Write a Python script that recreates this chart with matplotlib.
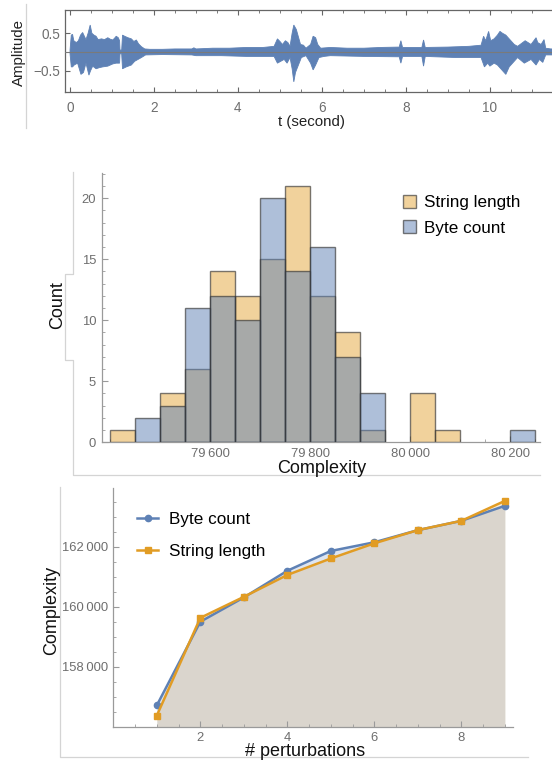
import matplotlib

matplotlib.use("Agg")
import matplotlib.pyplot as plt
import numpy as np
from matplotlib.colors import to_rgba
from matplotlib.lines import Line2D
from matplotlib.patches import Patch
from matplotlib.ticker import FuncFormatter, MultipleLocator

plt.rcParams["font.family"] = ["Liberation Sans", "DejaVu Sans"]

W, H = 552, 765
BLUE = "#5E81B5"
ORANGE = "#E19C24"
TICK = "#6e6e6e"
AXIS = "#9a9a9a"
FRAME = "#d4d4d4"

# --- waveform envelope (seconds, amplitude)
wave_t_hi = [0.00, 0.03, 0.06, 0.09, 0.15, 0.20, 0.25, 0.30, 0.35, 0.38, 0.43, 0.48, 0.52,
             0.57, 0.62, 0.67, 0.75, 0.82, 0.90, 0.96, 1.02, 1.07, 1.10, 1.15, 1.18, 1.19,
             1.23, 1.25, 1.30, 1.38, 1.46, 1.52, 1.58, 1.63, 1.70, 1.78, 1.90, 2.20, 2.50,
             2.90, 2.95, 3.00, 3.40, 3.80, 4.20, 4.60, 4.86, 4.94, 5.00, 5.06, 5.13, 5.19,
             5.24, 5.29, 5.33, 5.39, 5.44, 5.49, 5.56, 5.62, 5.73, 5.79, 5.85, 5.90, 5.97,
             6.20, 6.60, 7.00, 7.40, 7.84, 7.88, 7.92, 8.10, 8.38, 8.42, 8.46, 9.00, 9.50,
             9.79, 9.85, 9.90, 9.97, 10.02, 10.10, 10.18, 10.24, 10.30, 10.38, 10.46, 10.58,
             10.66, 10.84, 10.91, 10.98, 11.10, 11.14, 11.22, 11.29, 11.33, 11.45, 11.70]
wave_hi = [0.05, 0.45, 0.47, 0.30, 0.25, 0.30, 0.45, 0.52, 0.40, 0.33, 0.50, 0.72, 0.50,
           0.45, 0.42, 0.33, 0.35, 0.33, 0.38, 0.34, 0.32, 0.38, 0.42, 0.38, 0.30, 0.05,
           0.05, 0.45, 0.42, 0.38, 0.35, 0.28, 0.32, 0.22, 0.14, 0.08, 0.07, 0.07, 0.08,
           0.08, 0.11, 0.08, 0.10, 0.10, 0.12, 0.12, 0.15, 0.35, 0.28, 0.20, 0.30, 0.25,
           0.15, 0.50, 0.72, 0.60, 0.40, 0.20, 0.18, 0.10, 0.20, 0.42, 0.38, 0.20, 0.10,
           0.12, 0.10, 0.10, 0.12, 0.13, 0.30, 0.12, 0.12, 0.12, 0.32, 0.12, 0.13, 0.15,
           0.18, 0.42, 0.30, 0.55, 0.30, 0.35, 0.45, 0.55, 0.50, 0.45, 0.35, 0.20,
           0.15, 0.30, 0.25, 0.20, 0.38, 0.25, 0.20, 0.33, 0.10, 0.08, 0.08]
wave_t_lo = [0.00, 0.03, 0.06, 0.10, 0.18, 0.26, 0.32, 0.38, 0.45, 0.49, 0.54, 0.62, 0.70,
             0.78, 0.90, 1.02, 1.10, 1.18, 1.19, 1.23, 1.25, 1.34, 1.46, 1.54, 1.62, 1.70,
             1.80, 2.20, 2.90, 3.00, 3.60, 4.20, 4.86, 4.94, 5.02, 5.10, 5.17, 5.24, 5.29,
             5.33, 5.37, 5.44, 5.51, 5.62, 5.73, 5.79, 5.85, 5.93, 6.05, 6.20, 7.00, 7.84,
             7.88, 7.92, 8.38, 8.42, 8.46, 9.20, 9.79, 9.87, 9.95, 10.00, 10.10, 10.18,
             10.30, 10.38, 10.46, 10.58, 10.66, 10.82, 10.90, 10.98, 11.10, 11.18, 11.26,
             11.33, 11.70]
wave_lo = [-0.05, -0.40, -0.40, -0.35, -0.30, -0.60, -0.55, -0.30, -0.62, -0.50, -0.38,
           -0.45, -0.42, -0.40, -0.38, -0.32, -0.30, -0.30, -0.05, -0.05, -0.45, -0.40,
           -0.35, -0.25, -0.20, -0.15, -0.08, -0.07, -0.08, -0.10, -0.10, -0.12, -0.12,
           -0.30, -0.25, -0.20, -0.30, -0.15, -0.45, -0.80, -0.55, -0.35, -0.15, -0.10,
           -0.30, -0.48, -0.35, -0.15, -0.12, -0.10, -0.12, -0.13, -0.30, -0.12, -0.12,
           -0.38, -0.12, -0.15, -0.15, -0.40, -0.30, -0.38, -0.30, -0.35, -0.50, -0.60,
           -0.40, -0.25, -0.15, -0.30, -0.25, -0.20, -0.35, -0.20, -0.28, -0.08, -0.08]

# --- histogram (bin starts, width 50)
bin_starts = [79400, 79450, 79500, 79550, 79600, 79650, 79700, 79750, 79800, 79850,
              79900, 79950, 80000, 80050, 80100, 80150, 80200]
string_counts = [1, 0, 4, 6, 14, 12, 15, 21, 12, 9, 1, 0, 4, 1, 0, 0, 0]
byte_counts = [0, 2, 3, 11, 12, 10, 20, 14, 16, 7, 4, 0, 0, 0, 0, 0, 1]

# --- complexity vs perturbations
perturbations = [1, 2, 3, 4, 5, 6, 7, 8, 9]
byte_complexity = [156710, 159500, 160310, 161200, 161860, 162150, 162555, 162865, 163365]
string_complexity = [156370, 159630, 160330, 161060, 161610, 162115, 162555, 162865, 163530]


def px_axes(fig, left, top, right, bottom):
    return fig.add_axes([left / W, 1 - bottom / H, (right - left) / W, (bottom - top) / H])


def grouped(v, _pos=None):
    return f"{int(round(v)):,}".replace(",", "\u2009")


def fig_line(fig, xs, ys):
    fig.add_artist(Line2D([x / W for x in xs], [1 - y / H for y in ys],
                          transform=fig.transFigure, color=FRAME, lw=0.9))


def style_axes(ax):
    for side in ("top", "right"):
        ax.spines[side].set_visible(False)
    for side in ("left", "bottom"):
        ax.spines[side].set_color(AXIS)
        ax.spines[side].set_linewidth(0.9)
    ax.tick_params(which="both", direction="in", colors=AXIS, labelcolor=TICK,
                   labelsize=9.4, pad=4)
    ax.tick_params(which="major", length=4, width=0.8)
    ax.tick_params(which="minor", length=2.2, width=0.6)


fig = plt.figure(figsize=(W / 100, H / 100), dpi=100, facecolor="white")

# faint frame lines around the panels
fig_line(fig, [26, 26], [4, 128])
fig_line(fig, [73, 73, 65, 65, 73, 73, 540], [172, 274, 274, 360, 360, 475, 475])
fig_line(fig, [60, 60, 528], [487, 757, 757])

# 1) waveform
ax1 = px_axes(fig, 65, 9.7, 560, 92.3)
ax1.fill(np.concatenate([wave_t_hi, wave_t_lo[::-1]]),
         np.concatenate([wave_hi, wave_lo[::-1]]), color=BLUE, lw=0.6, zorder=2)
ax1.axhline(0, color="#7a7a7a", lw=0.8, zorder=3)
ax1.set_xlim(-0.12, 11.67)
ax1.set_ylim(-1.08, 1.13)
ax1.set_xticks([0, 2, 4, 6, 8, 10])
ax1.xaxis.set_minor_locator(MultipleLocator(0.5))
ax1.set_yticks([-0.5, 0.5])
ax1.set_yticklabels(["\u22120.5", "0.5"])
for s in ax1.spines.values():
    s.set_color("#666666")
    s.set_linewidth(0.9)
ax1.tick_params(which="both", direction="in", top=True, colors="#666666",
                labelcolor=TICK, labelsize=9.8)
ax1.tick_params(axis="x", pad=6.5)
ax1.tick_params(axis="y", pad=3.5)
ax1.tick_params(which="major", length=3.5)
ax1.tick_params(which="minor", length=2)
fig.text(19 / W, 1 - 52 / H, "Amplitude", rotation=90, ha="center", va="center",
         fontsize=10.8, color="#222222")
fig.text(312 / W, 1 - 122 / H, "t (second)", ha="center", va="center",
         fontsize=10.8, color="#222222")

# 2) histogram
ax2 = px_axes(fig, 101.7, 173, 540, 442.3)
bins = np.array(bin_starts)
sc = np.array(string_counts)
bc = np.array(byte_counts)
edge = to_rgba("#333333", 0.65)
ax2.bar(bins[sc > 0], sc[sc > 0], width=50, align="edge",
        color=to_rgba(ORANGE, 0.45), edgecolor=edge, lw=1.0, zorder=2)
ax2.bar(bins[bc > 0], bc[bc > 0], width=50, align="edge",
        color=to_rgba(BLUE, 0.5), edgecolor=edge, lw=1.0, zorder=3)
ax2.set_xlim(79383, 80260)
ax2.set_ylim(0, 22.07)
ax2.set_xticks([79600, 79800, 80000, 80200])
ax2.xaxis.set_minor_locator(MultipleLocator(50))
ax2.xaxis.set_major_formatter(FuncFormatter(grouped))
ax2.set_yticks([0, 5, 10, 15, 20])
ax2.yaxis.set_minor_locator(MultipleLocator(1))
style_axes(ax2)
ax2.legend(handles=[Patch(facecolor=to_rgba(ORANGE, 0.45), edgecolor=edge, label="String length"),
                    Patch(facecolor=to_rgba(BLUE, 0.5), edgecolor=edge, label="Byte count")],
           loc="upper left", bbox_to_anchor=(403 / W, 1 - 195 / H),
           bbox_transform=fig.transFigure, frameon=False, fontsize=12.3,
           handlelength=0.75, handleheight=0.75, handletextpad=0.5,
           labelspacing=0.6, borderpad=0, borderaxespad=0)
fig.text(58 / W, 1 - 305 / H, "Count", rotation=90, ha="center", va="center",
         fontsize=13, color="#111111")
fig.text(322 / W, 1 - 468 / H, "Complexity", ha="center", va="center",
         fontsize=13, color="#111111")

# 3) complexity vs perturbations
ax3 = px_axes(fig, 113.3, 488.3, 512.7, 726.7)
ax3.fill_between(perturbations, 156000, string_complexity, color=ORANGE, alpha=0.2,
                 lw=0, zorder=1)
ax3.fill_between(perturbations, 156000, byte_complexity, color=BLUE, alpha=0.2,
                 lw=0, zorder=1)
ax3.plot(perturbations, byte_complexity, color=BLUE, lw=1.8, marker="o", ms=4.5,
         zorder=3, label="Byte count")
ax3.plot(perturbations, string_complexity, color=ORANGE, lw=1.8, marker="s", ms=4.8,
         zorder=4, label="String length")
ax3.set_xlim(0, 9.18)
ax3.set_ylim(156000, 163950)
ax3.set_xticks([2, 4, 6, 8])
ax3.xaxis.set_minor_locator(MultipleLocator(0.5))
ax3.set_yticks([158000, 160000, 162000])
ax3.yaxis.set_minor_locator(MultipleLocator(500))
ax3.yaxis.set_major_formatter(FuncFormatter(grouped))
style_axes(ax3)
ax3.legend(loc="upper left", bbox_to_anchor=(137 / W, 1 - 512 / H),
           bbox_transform=fig.transFigure, frameon=False, fontsize=12.3,
           handlelength=1.25, handletextpad=0.6, labelspacing=1.0,
           borderpad=0, borderaxespad=0)
fig.text(52 / W, 1 - 610 / H, "Complexity", rotation=90, ha="center", va="center",
         fontsize=13, color="#111111")
fig.text(305 / W, 1 - 752 / H, "# perturbations", ha="center", va="center",
         fontsize=13, color="#111111")

fig.savefig("out.png", dpi=100, facecolor="white")
